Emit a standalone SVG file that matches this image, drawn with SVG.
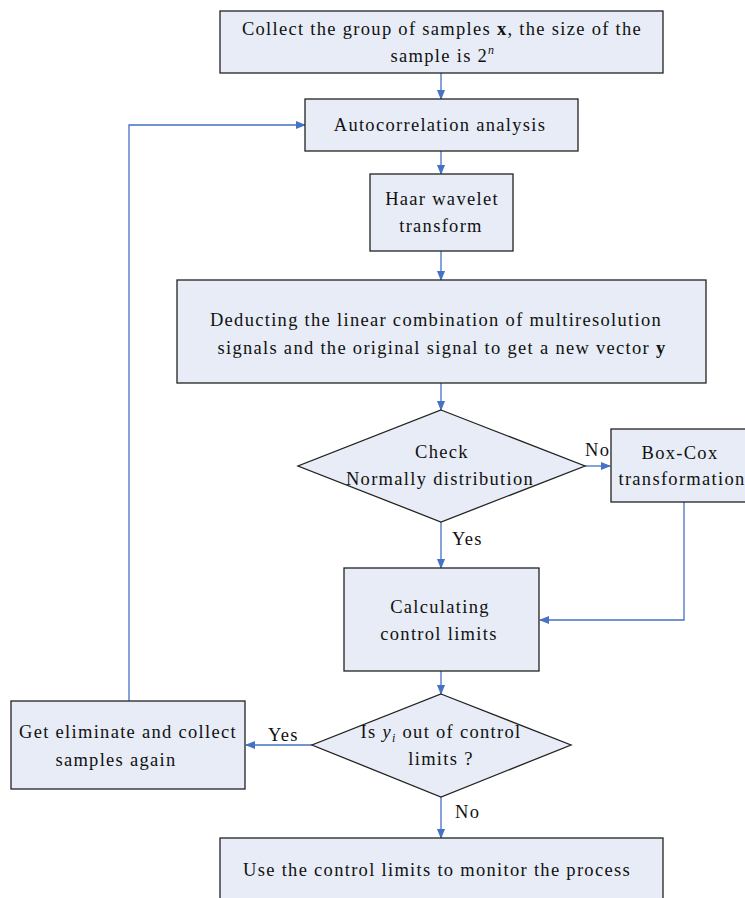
<svg xmlns="http://www.w3.org/2000/svg" width="745" height="898" viewBox="0 0 745 898">
<defs>
<style>
.n{fill:#E7ECF6;stroke:#222;stroke-width:1.3}
.t{font-family:"Liberation Serif","Times New Roman",serif;font-size:18.5px;fill:#111;text-anchor:middle;letter-spacing:1.3px}
.c{fill:none;stroke:#4472C4;stroke-width:1.3}
.l{font-family:"Liberation Serif","Times New Roman",serif;font-size:18.5px;fill:#111;letter-spacing:1.3px}
</style>
<marker id="a" markerWidth="10" markerHeight="10" refX="9" refY="5" orient="auto" markerUnits="userSpaceOnUse">
<path d="M0,1 L10,5 L0,9 Z" fill="#4472C4"/>
</marker>
</defs>
<rect width="745" height="898" fill="#fff"/>
<g id="connectors">
<line class="c" x1="441" y1="73" x2="441" y2="99" marker-end="url(#a)"/>
<line class="c" x1="441" y1="151" x2="441" y2="174" marker-end="url(#a)"/>
<line class="c" x1="441" y1="251" x2="441" y2="280" marker-end="url(#a)"/>
<line class="c" x1="441" y1="383" x2="441" y2="410" marker-end="url(#a)"/>
<line class="c" x1="585" y1="466" x2="610" y2="466" marker-end="url(#a)"/>
<line class="c" x1="441" y1="522" x2="441" y2="568" marker-end="url(#a)"/>
<polyline class="c" points="684,502 684,620 540,620" marker-end="url(#a)"/>
<line class="c" x1="441" y1="671" x2="441" y2="694" marker-end="url(#a)"/>
<line class="c" x1="312" y1="745" x2="246" y2="745" marker-end="url(#a)"/>
<polyline class="c" points="129,701 129,125 305,125" marker-end="url(#a)"/>
<line class="c" x1="441" y1="797" x2="441" y2="838" marker-end="url(#a)"/>
<text class="l" x="585" y="456">No</text>
<text class="l" x="452" y="545">Yes</text>
<text class="l" x="268" y="741">Yes</text>
<text class="l" x="455" y="818">No</text>
</g>
<g id="collect">
<rect class="n" x="220" y="11" width="443" height="62"/>
<text class="t" x="442" y="35">Collect the group of samples <tspan font-weight="bold">x</tspan>, the size of the</text>
<text class="t" x="443" y="62">sample is 2<tspan font-style="italic" font-size="12" dy="-8">n</tspan></text>
</g>
<g id="autocorr">
<rect class="n" x="305" y="99" width="273" height="52"/>
<text class="t" x="440" y="131">Autocorrelation analysis</text>
</g>
<g id="haar">
<rect class="n" x="370" y="174" width="143" height="77"/>
<text class="t" x="442" y="205">Haar wavelet</text>
<text class="t" x="441" y="232">transform</text>
</g>
<g id="deduct">
<rect class="n" x="177" y="280" width="529" height="103"/>
<text class="t" x="436" y="326">Deducting the linear combination of multiresolution</text>
<text class="t" x="442" y="354">signals and the original signal to get a new vector  <tspan font-weight="bold">y</tspan></text>
</g>
<g id="check">
<polygon class="n" points="441,410 585,466 441,522 298,466"/>
<text class="t" x="442" y="458">Check</text>
<text class="t" x="440" y="485">Normally distribution</text>
</g>
<g id="boxcox">
<rect class="n" x="611" y="429" width="140" height="73"/>
<text class="t" x="680" y="459">Box-Cox</text>
<text class="t" x="682" y="485">transformation</text>
</g>
<g id="calc">
<rect class="n" x="344" y="568" width="195" height="103"/>
<text class="t" x="440" y="613">Calculating</text>
<text class="t" x="439" y="640">control limits</text>
</g>
<g id="isout">
<polygon class="n" points="441,694 571,745 441,797 312,745"/>
<text class="t" x="441" y="738">Is <tspan font-style="italic">y</tspan><tspan font-style="italic" font-size="12" dy="4">i</tspan><tspan dy="-4"> out of control</tspan></text>
<text class="t" x="441" y="765">limits  ?</text>
</g>
<g id="again">
<rect class="n" x="11" y="701" width="234" height="88"/>
<text class="t" x="128" y="738">Get eliminate and collect</text>
<text class="t" x="116" y="766">samples again</text>
</g>
<g id="monitor">
<rect class="n" x="220" y="838" width="443" height="70"/>
<text class="t" x="437" y="876">Use the control limits to monitor the process</text>
</g>
</svg>
